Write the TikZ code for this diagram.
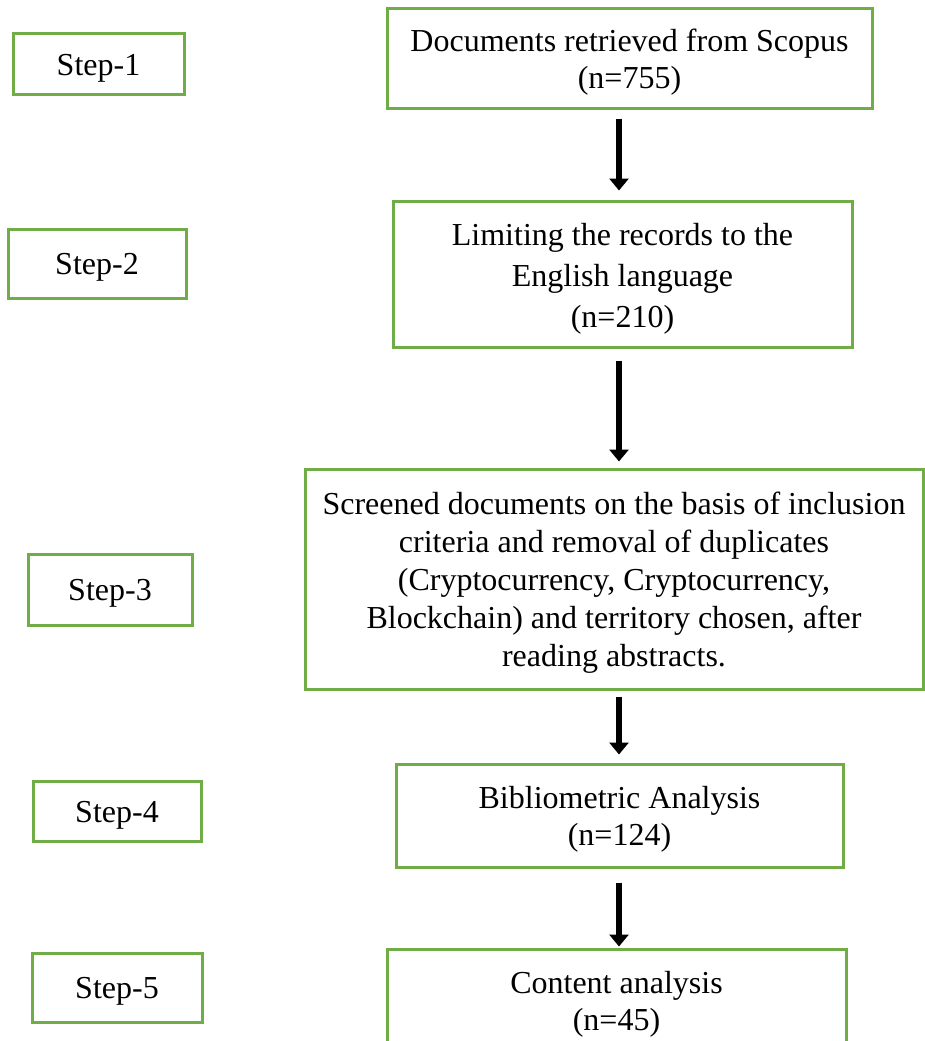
\documentclass[tikz,border=0pt]{standalone}
\usepackage{fontspec}
\setmainfont{Liberation Serif}
\usepackage{xcolor}
\usetikzlibrary{arrows.meta, calc}
\definecolor{boxgreen}{RGB}{112,173,71}
\def \lowtext#1{\raisebox{-4pt}[\height][\depth]{\begin{tabular}{@{}c@{}}#1\end{tabular}}}

\begin{document}
\begin{tikzpicture}[x=1pt, y=-1pt, >={Triangle[width=19pt,length=12pt]},
  every node/.style={font=\fontsize{32}{36.8}\selectfont},
  stepbox/.style={draw=boxgreen, line width=3pt, inner sep=0pt},
  procbox/.style={draw=boxgreen, line width=3pt, inner sep=0pt},
  flow/.style={->, line width=6pt}]

\path[use as bounding box, clip] (0,0) rectangle (925,1041);

% step labels on the left
\node[stepbox, minimum width=171pt, minimum height=60pt] (s1) at (98.5,64) {\lowtext{Step-1}};
\node[stepbox, minimum width=178pt, minimum height=69pt] (s2) at (97,263.5) {\lowtext{Step-2}};
\node[stepbox, minimum width=164pt, minimum height=71pt] (s3) at (110,589.5) {\lowtext{Step-3}};
\node[stepbox, minimum width=168pt, minimum height=60pt] (s4) at (117,811) {\lowtext{Step-4}};
\node[stepbox, minimum width=170pt, minimum height=69pt] (s5) at (117,987.5) {\lowtext{Step-5}};

% process boxes
\node[procbox, minimum width=485pt, minimum height=99pt] (b1) at (629.5,58.5)
  {\lowtext{Documents retrieved from Scopus\\(n=755)}};
\node[procbox, minimum width=459pt, minimum height=146pt, font=\fontsize{32}{41}\selectfont] (b2) at (622.5,274)
  {\lowtext{Limiting the records to the\\English language\\(n=210)}};
\node[procbox, minimum width=618pt, minimum height=220pt, font=\fontsize{32}{38}\selectfont] (b3) at (614,579)
  {\lowtext{Screened documents on the basis of inclusion\\criteria and removal of duplicates\\(Cryptocurrency, Cryptocurrency,\\Blockchain) and territory chosen, after\\reading abstracts.}};
\node[procbox, minimum width=447pt, minimum height=103pt] (b4) at (619.5,815.5)
  {\lowtext{Bibliometric Analysis\\(n=124)}};
\node[procbox, minimum width=459pt, minimum height=104pt] (b5) at (616.5,1001)
  {\lowtext{Content analysis\\(n=45)}};

% arrows
\coordinate (ax) at (619,0);
\draw[flow, shorten <=9pt, shorten >=9pt] (b1.south -| ax) -- (b2.north -| ax);
\draw[flow, shorten <=12pt, shorten >=6pt] (b2.south -| ax) -- (b3.north -| ax);
\draw[flow, shorten <=6pt, shorten >=8pt] (b3.south -| ax) -- (b4.north -| ax);
\draw[flow, shorten <=14pt, shorten >=1pt] (b4.south -| ax) -- (b5.north -| ax);

\end{tikzpicture}
\end{document}
